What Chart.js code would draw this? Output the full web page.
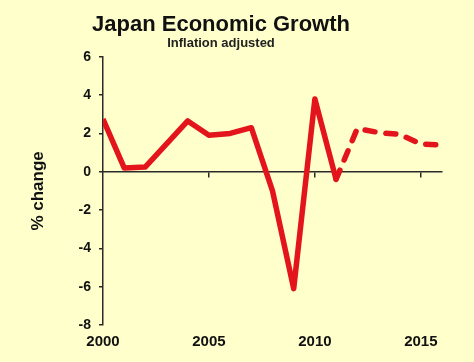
<!DOCTYPE html>
<html>
<head>
<meta charset="utf-8">
<script src="https://cdn.jsdelivr.net/npm/chart.js@4"></script>
<style>
  html, body { margin: 0; padding: 0; background: #FFFFCC; }
  #wrap { width: 474px; height: 362px; position: relative; }
</style>
</head>
<body>
<div id="wrap"><canvas id="c" width="474" height="362"></canvas></div>
<script>
// ---- data ----
const years = [2000, 2001, 2002, 2003, 2004, 2005, 2006, 2007, 2008, 2009, 2010, 2011, 2012, 2013, 2014, 2015, 2016];
const growth = [2.75, 0.2, 0.25, 1.45, 2.65, 1.9, 2.0, 2.3, -1.0, -6.1, 3.8, -0.4, 2.25, 2.05, 1.95, 1.45, 1.4];
const forecastFrom = 2011; // segments starting at/after this year are dashed
const xTickLabels = [2000, 2005, 2010, 2015];
const xTickMarks = [2005, 2010, 2015];
const yTicks = [-8, -6, -4, -2, 0, 2, 4, 6];
const titleText = 'Japan Economic Growth';
const subtitleText = 'Inflation adjusted';
const yTitle = '% change';

const points = years.map((y, i) => ({ x: y, y: growth[i] }));
const FONT = "'Liberation Sans', Arial, sans-serif";
const AXIS = '#2a2a2a';

new Chart(document.getElementById('c'), {
  type: 'line',
  data: {
    datasets: [{
      data: points,
      borderColor: '#E3141B',
      borderWidth: 5.5,
      borderJoinStyle: 'round',
      pointRadius: 0,
      pointHoverRadius: 0,
      tension: 0,
      fill: false,
      segment: {
        borderDash: ctx => ctx.p0.parsed.x >= forecastFrom ? [10, 11] : undefined,
        borderCapStyle: ctx => ctx.p0.parsed.x >= forecastFrom ? 'round' : 'butt'
      }
    }]
  },
  options: {
    responsive: false,
    animation: false,
    events: [],
    layout: { padding: { top: 0, left: 0, right: 32, bottom: 0 } },
    plugins: {
      legend: { display: false },
      tooltip: { enabled: false },
      title: {
        display: true,
        text: titleText,
        color: '#111',
        font: { family: FONT, size: 22, weight: 'bold', lineHeight: 1 },
        padding: { top: 13.6, bottom: 0 }
      },
      subtitle: {
        display: true,
        text: subtitleText,
        color: '#222',
        font: { family: FONT, size: 13, weight: 'bold', lineHeight: 1 },
        padding: { top: 1.2, bottom: 7 }
      }
    },
    scales: {
      x: {
        type: 'linear',
        min: 2000,
        max: 2016,
        afterBuildTicks: s => { s.ticks = xTickLabels.map(v => ({ value: v })); },
        afterFit: s => { s.height = 37; },
        border: { display: false },
        grid: { display: false, drawTicks: false },
        ticks: {
          padding: 7.5,
          maxRotation: 0,
          autoSkip: false,
          color: '#111',
          font: { family: FONT, size: 15, weight: 'bold' },
          callback: v => String(v)
        }
      },
      x2: {
        type: 'linear',
        axis: 'x',
        position: { y: 0 },
        min: 2000,
        max: 2016,
        afterBuildTicks: s => { s.ticks = xTickMarks.map(v => ({ value: v })); },
        border: { display: true, color: AXIS, width: 1.5 },
        grid: { display: true, drawOnChartArea: false, drawTicks: true, tickLength: 5, color: AXIS, lineWidth: 1.5 },
        ticks: { display: false }
      },
      y: {
        type: 'linear',
        min: -8,
        max: 6,
        afterBuildTicks: s => { s.ticks = yTicks.map(v => ({ value: v })); },
        afterFit: s => { s.width = 103; },
        border: { display: true, color: AXIS, width: 1.5 },
        grid: { display: true, drawOnChartArea: false, drawTicks: true, tickLength: 4, color: AXIS, lineWidth: 1.5 },
        ticks: {
          padding: 8,
          color: '#111',
          font: { family: FONT, size: 14, weight: 'bold' }
        },
        title: {
          display: true,
          text: yTitle,
          color: '#111',
          font: { family: FONT, size: 17, weight: 'bold', lineHeight: 1.2 },
          padding: { top: 27.8, bottom: 0 }
        }
      }
    }
  }
});
</script>
</body>
</html>
